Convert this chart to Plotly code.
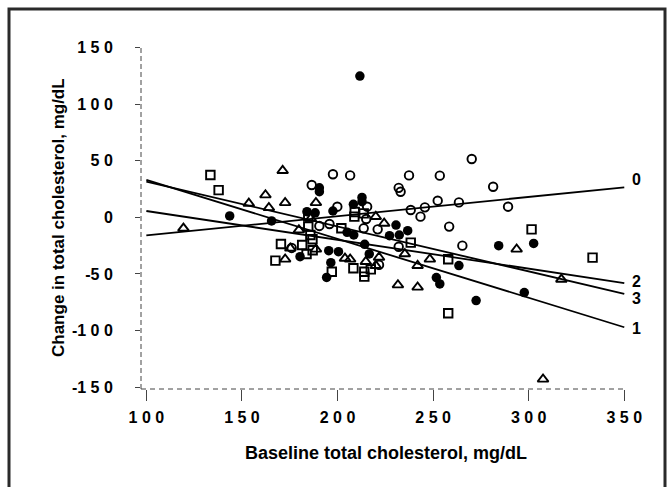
import plotly.graph_objects as go

# ---- data ----
# group 0: open circles
x0 = [176, 186.5, 197.6, 206.6, 199.9, 190.5, 195.8, 215.5, 215, 213.7, 221, 221.7, 232, 233,
      237.4, 238.3, 243.4, 245.7, 232, 253.5, 252.4, 258.4, 263.5, 265.3, 270.2, 281.4, 289.2]
y0 = [-27, 28.5, 38, 37, 9.4, -7.6, -5.9, 9.4, -1.5, -9.7, -10.6, -42, 26, 22.6,
      37, 6.5, 0.6, 8.8, -26, 36.8, 14.7, -8.2, 13.2, -25, 51.5, 27, 9.4]
# group 1: filled circles
x1 = [143.6, 165.5, 180.4, 184, 188.3, 190.5, 190.5, 197.6, 195.4, 200.5, 196.5, 194.3, 208.3,
      211.7, 212.8, 212.8, 205, 208.5, 214.2, 216.6, 230.6, 227.2, 232.3, 236.7, 251.7, 253.5,
      263.5, 272.5, 284.3, 297.7, 302.6]
y1 = [1.2, -3.2, -34.7, 5, 4, 26, 22.6, 5.6, -29.4, -30.3, -40, -53, 11.5,
      124.7, 17.6, 13.8, -13.2, -15.6, -23.8, -32.3, -6.8, -16.2, -15.6, -11.8, -53.2, -58.8,
      -42.6, -73.5, -25, -66.4, -23]
# group 2: open squares
x2 = [133.5, 137.8, 170.4, 167.5, 181.5, 183.8, 184.7, 184.7, 185.8, 186.9, 197, 202, 208.8,
      208.3, 213.7, 214, 214, 217.4, 238.3, 257.9, 257.9, 301.5, 333.4, 187, 209]
y2 = [37.3, 24, -23.5, -38.2, -24.4, -32.3, 0.6, -8.2, -15.6, -19.4, -48, -9.7, 0.6,
      -45, 3.5, -48, -52.3, -45.9, -22.3, -37, -84.7, -10.6, -35.6, -29, 4.7]
# group 3: open triangles
x3 = [119.4, 153.6, 162.3, 164.1, 171.3, 172.6, 172.6, 175.3, 179.8, 188.7, 188.7, 203.9, 206.6,
      214.8, 220, 221.7, 224.4, 220, 231.6, 235.2, 241.9, 241.9, 248.3, 293.7, 317.1, 307.5, 186]
y3 = [-9.7, 12.3, 19.7, 8.5, 41.2, 12.9, -37, -27.3, -11.2, 12.9, -28.2, -36.2, -37,
      -39.1, 0.6, -35.3, -5.3, -42.6, -59.7, -32.3, -61.7, -42.6, -37, -28.2, -54.7, -142.9, -1]

# regression lines (ends at x = 100 and x = 350)
line_x = [100, 350]
line0_y = [-16, 26.5]
line1_y = [33, -97]
line2_y = [5.6, -58]
line3_y = [31.5, -67.5]
line_labels = ["0", "1", "2", "3"]
label_y = [33, -98.5, -56.5, -71.5]

x_ticks = [100, 150, 200, 250, 300, 350]
x_ticktext = ["1 0 0", "1 5 0", "2 0 0", "2 5 0", "3 0 0", "3 5 0"]
y_ticks = [-150, -100, -50, 0, 50, 100, 150]
y_ticktext = ["-1 5 0", "-1 0 0", "-5 0", "0", "5 0", "1 0 0", "1 5 0"]

# ---- layout geometry (pixels) ----
W, H = 669, 487
L, R, T, B = 141, 626, 40, 389
Y_RANGE = [-151.5, 156.5]


def px(xp):
    return (xp - L) / (R - L)


def py(yp):
    return (B - yp) / (B - T)


def yval_to_paper(v):
    return (v - Y_RANGE[0]) / (Y_RANGE[1] - Y_RANGE[0])


FONT = "Liberation Sans, Arial, sans-serif"

fig = go.Figure()

for ly in [line0_y, line1_y, line2_y, line3_y]:
    fig.add_trace(go.Scatter(x=line_x, y=ly, mode="lines",
                             line=dict(color="black", width=1.8), showlegend=False,
                             hoverinfo="skip"))

mk = dict(size=8.5, line=dict(color="black", width=1.9))
fig.add_trace(go.Scatter(x=x0, y=y0, mode="markers", showlegend=False,
                         marker=dict(symbol="circle-open", color="black", **mk)))
fig.add_trace(go.Scatter(x=x2, y=y2, mode="markers", showlegend=False,
                         marker=dict(symbol="square-open", color="black", **mk)))
fig.add_trace(go.Scatter(x=x3, y=y3, mode="markers", showlegend=False,
                         marker=dict(symbol="triangle-up-open", color="black", size=9.5,
                                     line=dict(color="black", width=1.9))))
fig.add_trace(go.Scatter(x=x1, y=y1, mode="markers", showlegend=False,
                         marker=dict(symbol="circle", color="black", size=9.5,
                                     line=dict(color="black", width=0))))

annotations = []
for lab, yy in zip(line_labels, label_y):
    annotations.append(dict(x=px(630), y=yval_to_paper(yy), xref="paper", yref="paper",
                            text="<b>%s</b>" % lab,
                            showarrow=False, xanchor="left", yanchor="middle",
                            font=dict(family=FONT, size=16, color="black")))
annotations.append(dict(x=px(386), y=py(453), xref="paper", yref="paper",
                        text="<b>Baseline total cholesterol, mg/dL</b>", showarrow=False,
                        xanchor="center", yanchor="middle",
                        font=dict(family=FONT, size=18, color="black")))
annotations.append(dict(x=px(58), y=py(218), xref="paper", yref="paper",
                        text="<b>Change in total cholesterol, mg/dL</b>", showarrow=False,
                        textangle=-90, xanchor="center", yanchor="middle",
                        font=dict(family=FONT, size=17, color="black")))

shapes = [
    # outer frame
    dict(type="rect", xref="paper", yref="paper", x0=px(9), x1=px(665), y0=py(495), y1=py(9),
         line=dict(color="#2a2a2a", width=3), layer="below"),
    # dashed axis lines
    dict(type="line", xref="paper", yref="paper", x0=px(141), x1=px(141), y0=py(389), y1=py(46),
         line=dict(color="#444444", width=1, dash="5px,3px")),
    dict(type="line", xref="paper", yref="paper", x0=px(141), x1=px(624), y0=py(389), y1=py(389),
         line=dict(color="#444444", width=1, dash="5px,4px")),
]

fig.update_layout(
    width=W, height=H,
    margin=dict(l=L, r=W - R, t=T, b=H - B),
    paper_bgcolor="white", plot_bgcolor="white",
    annotations=annotations, shapes=shapes,
    hovermode=False,
    xaxis=dict(range=[97.2, 350.9], tickvals=x_ticks,
               ticktext=["<b>%s</b>" % t for t in x_ticktext],
               ticks="outside", ticklen=11, tickwidth=1, tickcolor="#444444",
               showgrid=False, zeroline=False, showline=False,
               tickfont=dict(family=FONT, size=16, color="black"),
               ticklabelstandoff=3),
    yaxis=dict(range=Y_RANGE, tickvals=y_ticks,
               ticktext=["<b>%s</b>" % t for t in y_ticktext],
               ticks="outside", ticklen=5, tickwidth=1, tickcolor="#444444",
               showgrid=False, zeroline=False, showline=False,
               tickfont=dict(family=FONT, size=16, color="black"),
               ticklabelstandoff=19),
)
fig.update_traces(cliponaxis=False)

fig.write_html("out.html", config={"displayModeBar": False},
               post_script="document.body.style.margin='0px';document.body.style.overflow='hidden';")
